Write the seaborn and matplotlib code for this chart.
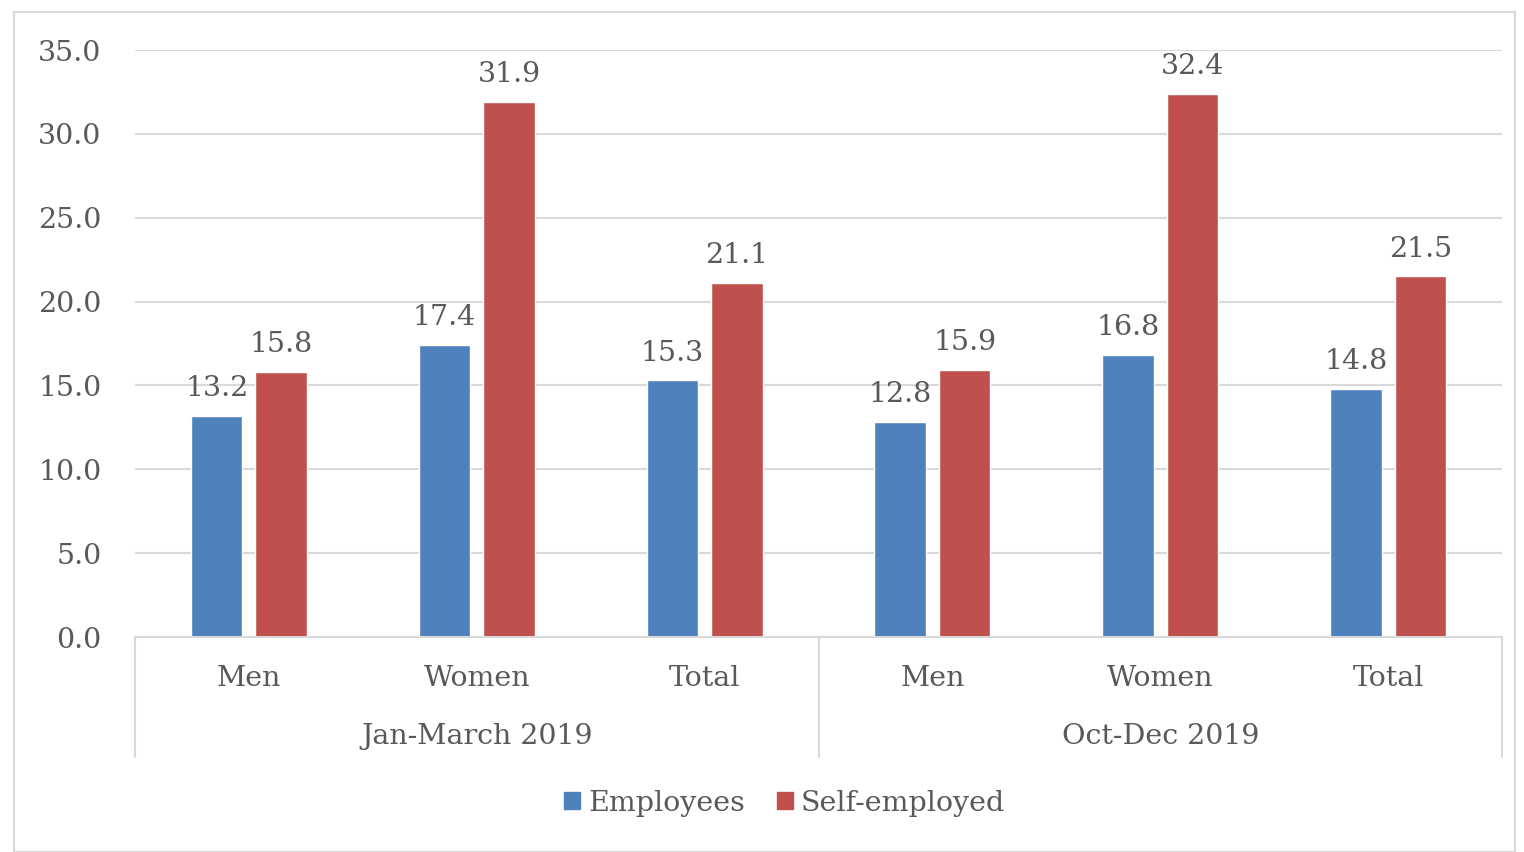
import matplotlib
matplotlib.use("Agg")
import matplotlib.pyplot as plt
import matplotlib.transforms as mtransforms
from matplotlib.patches import Rectangle
import pandas as pd
import seaborn as sns

periods = ["Jan-March 2019", "Oct-Dec 2019"]
groups = ["Men", "Women", "Total"]
series = ["Employees", "Self-employed"]
employees = [13.2, 17.4, 15.3, 12.8, 16.8, 14.8]
self_employed = [15.8, 31.9, 21.1, 15.9, 32.4, 21.5]
colors = ["#4F81BD", "#C0504D"]

keys = [f"{p}|{g}" for p in periods for g in groups]
df = pd.DataFrame({
    "key": keys * 2,
    "series": [series[0]] * len(keys) + [series[1]] * len(keys),
    "value": employees + self_employed,
})

sns.set_theme(style="white")
plt.rcParams["font.family"] = ["DejaVu Serif", "Liberation Serif"]
text_col = "#595959"
grid_col = "#D9D9D9"
fs = 20.5

fig = plt.figure(figsize=(15.24, 8.52), dpi=100)
ax = fig.add_axes([0.0886, 0.2523, 0.897, 0.689])

sns.barplot(data=df, x="key", y="value", hue="series", order=keys,
            hue_order=series, palette=colors, width=0.566, gap=0.2,
            saturation=1, ax=ax, legend=False)

ax.set_ylim(0, 35)
ax.set_xlim(-0.5, len(keys) - 0.5)
ax.set_yticks([0, 5, 10, 15, 20, 25, 30, 35])
ax.set_yticklabels([f"{v:.1f}" for v in ax.get_yticks()], fontsize=fs, color=text_col)
ax.yaxis.grid(True, color=grid_col, linewidth=1.5)
ax.set_axisbelow(True)
ax.tick_params(axis="y", length=0, pad=24)
for s in ["top", "right", "left"]:
    ax.spines[s].set_visible(False)
ax.spines["bottom"].set_color(grid_col)
ax.spines["bottom"].set_linewidth(1.5)
ax.set_xlabel("")
ax.set_ylabel("")
ax.set_xticks(range(len(keys)))
ax.set_xticklabels([])
ax.tick_params(axis="x", length=0)

for c in ax.containers:
    ax.bar_label(c, fmt="%.1f", padding=10, fontsize=fs, color=text_col)

trans = mtransforms.blended_transform_factory(ax.transData, ax.transAxes)
for i, k in enumerate(keys):
    ax.text(i, -0.07, k.split("|")[1], transform=trans, ha="center",
            va="center", fontsize=fs, color=text_col)
n = len(groups)
for j, p in enumerate(periods):
    ax.text(j * n + (n - 1) / 2, -0.17, p, transform=trans, ha="center",
            va="center", fontsize=fs, color=text_col)
for j in range(len(periods) + 1):
    ax.plot([j * n - 0.5, j * n - 0.5], [0, -0.204], transform=trans,
            color=grid_col, linewidth=1.5, clip_on=False)

handles = [Rectangle((0, 0), 1, 1, color=c) for c in colors]
fig.legend(handles, series, loc="center", bbox_to_anchor=(0.515, 0.0575),
           ncol=2, frameon=False, fontsize=fs, handlelength=0.55,
           handleheight=0.55, handletextpad=0.3, columnspacing=1.1,
           labelcolor=text_col)

fig.patches.append(Rectangle((14 / 1524, 0.0), 1501 / 1524, 1 - 12 / 852,
                             transform=fig.transFigure, fill=False,
                             edgecolor="#D9D9D9", linewidth=1.5))

fig.savefig("out.png", dpi=100)
